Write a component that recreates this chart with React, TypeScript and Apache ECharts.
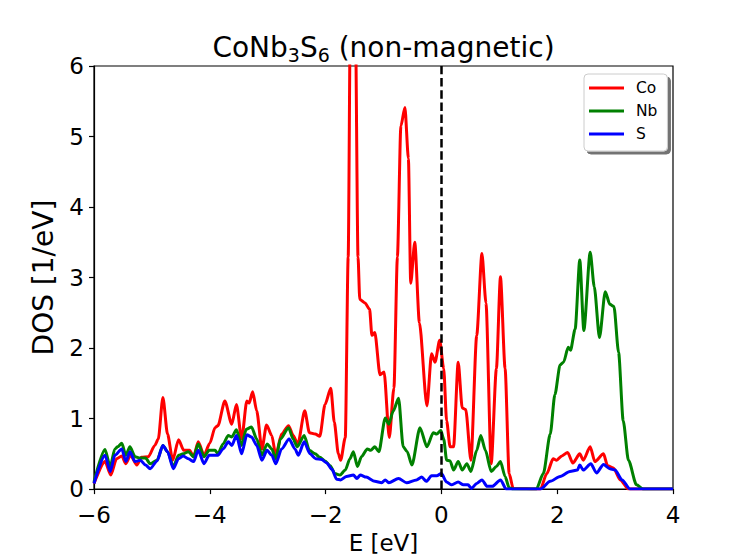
import React, { useEffect, useRef } from "react";
import * as echarts from "echarts";

// Energy (eV) vs. projected DOS (1/eV)
const coDOS: [number, number][] = [
  [-6.0, 0.08], [-5.81, 0.39], [-5.71, 0.2], [-5.61, 0.43], [-5.52, 0.47], [-5.45, 0.36],
  [-5.37, 0.48], [-5.26, 0.34], [-5.18, 0.45], [-5.06, 0.46], [-4.95, 0.62], [-4.89, 0.71],
  [-4.81, 1.3], [-4.73, 0.78], [-4.64, 0.41], [-4.54, 0.7], [-4.45, 0.55], [-4.35, 0.55],
  [-4.28, 0.46], [-4.2, 0.67], [-4.1, 0.48], [-4.0, 0.65], [-3.91, 0.87], [-3.86, 0.9],
  [-3.74, 1.25], [-3.62, 0.92], [-3.54, 1.2], [-3.45, 0.71], [-3.36, 1.25], [-3.32, 1.22],
  [-3.26, 1.38], [-3.19, 1.11], [-3.1, 0.57], [-3.02, 0.91], [-2.93, 0.76], [-2.86, 0.48],
  [-2.76, 0.78], [-2.64, 0.9], [-2.56, 0.76], [-2.48, 0.64], [-2.36, 1.11], [-2.28, 0.8],
  [-2.18, 0.78], [-2.1, 0.75], [-2.01, 1.2], [-1.91, 1.43], [-1.85, 0.95], [-1.78, 0.5],
  [-1.74, 0.41], [-1.66, 0.73], [-1.61, 3.29], [-1.57, 7.0], [-1.53, 8.0], [-1.49, 7.0],
  [-1.44, 3.29], [-1.41, 2.69], [-1.32, 2.64], [-1.24, 2.55], [-1.2, 2.18], [-1.15, 2.22],
  [-1.06, 1.62], [-0.99, 1.66], [-0.9, 0.73], [-0.82, 1.43], [-0.76, 3.29], [-0.7, 5.15],
  [-0.63, 5.41], [-0.57, 4.69], [-0.53, 2.92], [-0.46, 3.5], [-0.38, 2.36], [-0.25, 1.18],
  [-0.17, 1.92], [-0.11, 1.8], [-0.03, 2.11], [0.04, 1.71], [0.09, 0.97], [0.15, 0.6],
  [0.21, 0.6], [0.29, 1.8], [0.36, 1.15], [0.42, 1.13], [0.51, 0.41], [0.61, 2.18],
  [0.7, 3.34], [0.77, 2.64], [0.86, 0.36], [0.95, 1.71], [1.02, 3.01], [1.1, 1.71],
  [1.17, 0.22], [1.24, 0.01], [1.71, 0.0], [1.82, 0.22], [1.93, 0.43], [1.99, 0.41],
  [2.08, 0.47], [2.18, 0.52], [2.27, 0.37], [2.39, 0.5], [2.45, 0.41], [2.57, 0.6],
  [2.65, 0.39], [2.8, 0.5], [2.87, 0.33], [2.97, 0.3], [3.09, 0.13], [3.23, 0.0], [4.0, 0.0],
];

const nbDOS: [number, number][] = [
  [-6.0, 0.1], [-5.81, 0.56], [-5.72, 0.32], [-5.64, 0.57], [-5.59, 0.6], [-5.52, 0.65],
  [-5.45, 0.48], [-5.38, 0.6], [-5.29, 0.46], [-5.21, 0.44], [-5.11, 0.44], [-5.03, 0.36],
  [-4.91, 0.41], [-4.81, 0.62], [-4.73, 0.53], [-4.63, 0.32], [-4.54, 0.48], [-4.46, 0.5],
  [-4.37, 0.53], [-4.28, 0.46], [-4.2, 0.64], [-4.1, 0.46], [-4.01, 0.55], [-3.91, 0.55],
  [-3.86, 0.5], [-3.77, 0.64], [-3.68, 0.76], [-3.62, 0.74], [-3.54, 0.84], [-3.45, 0.62],
  [-3.37, 0.85], [-3.28, 0.88], [-3.19, 0.71], [-3.1, 0.48], [-3.01, 0.64], [-2.93, 0.57],
  [-2.86, 0.43], [-2.78, 0.71], [-2.64, 0.87], [-2.56, 0.71], [-2.49, 0.6], [-2.37, 0.76],
  [-2.28, 0.55], [-2.18, 0.5], [-2.1, 0.45], [-2.01, 0.4], [-1.92, 0.33], [-1.84, 0.22],
  [-1.75, 0.2], [-1.66, 0.27], [-1.58, 0.43], [-1.52, 0.53], [-1.45, 0.32], [-1.38, 0.46],
  [-1.28, 0.57], [-1.22, 0.55], [-1.15, 0.6], [-1.08, 0.53], [-0.97, 1.01], [-0.91, 0.92],
  [-0.83, 1.11], [-0.74, 1.29], [-0.66, 0.6], [-0.59, 0.53], [-0.51, 0.34], [-0.37, 0.87],
  [-0.25, 0.6], [-0.14, 0.8], [-0.08, 0.78], [-0.01, 0.83], [0.04, 0.71], [0.09, 0.41],
  [0.15, 0.4], [0.21, 0.27], [0.29, 0.39], [0.36, 0.27], [0.44, 0.36], [0.51, 0.25],
  [0.61, 0.55], [0.68, 0.76], [0.76, 0.55], [0.86, 0.25], [0.95, 0.32], [1.02, 0.39],
  [1.1, 0.18], [1.17, 0.02], [1.24, 0.0], [1.64, 0.0], [1.76, 0.22], [1.88, 0.78],
  [1.96, 1.34], [2.05, 1.76], [2.11, 1.8], [2.19, 2.01], [2.23, 1.97], [2.31, 2.27],
  [2.39, 3.25], [2.46, 2.25], [2.57, 3.36], [2.64, 2.87], [2.73, 2.15], [2.83, 2.8],
  [2.91, 2.62], [2.98, 2.59], [3.06, 1.94], [3.14, 0.97], [3.23, 0.41], [3.37, 0.06],
  [3.48, 0.0], [4.0, 0.0],
];

const sDOS: [number, number][] = [
  [-6.0, 0.08], [-5.81, 0.48], [-5.72, 0.25], [-5.64, 0.48], [-5.52, 0.57], [-5.45, 0.39],
  [-5.38, 0.53], [-5.29, 0.39], [-5.2, 0.41], [-5.11, 0.34], [-5.03, 0.29], [-4.91, 0.4],
  [-4.81, 0.62], [-4.73, 0.53], [-4.63, 0.29], [-4.54, 0.43], [-4.46, 0.47], [-4.37, 0.43],
  [-4.28, 0.39], [-4.2, 0.55], [-4.1, 0.36], [-4.01, 0.48], [-3.91, 0.48], [-3.86, 0.48],
  [-3.77, 0.57], [-3.68, 0.67], [-3.62, 0.62], [-3.54, 0.76], [-3.45, 0.5], [-3.36, 0.77],
  [-3.28, 0.74], [-3.19, 0.62], [-3.1, 0.41], [-3.01, 0.55], [-2.93, 0.48], [-2.86, 0.36],
  [-2.76, 0.57], [-2.63, 0.71], [-2.53, 0.57], [-2.47, 0.48], [-2.37, 0.67], [-2.27, 0.5],
  [-2.17, 0.43], [-2.07, 0.42], [-1.98, 0.37], [-1.89, 0.28], [-1.81, 0.14], [-1.74, 0.13],
  [-1.64, 0.18], [-1.52, 0.2], [-1.46, 0.15], [-1.4, 0.2], [-1.3, 0.17], [-1.15, 0.11],
  [-1.03, 0.09], [-0.97, 0.13], [-0.91, 0.09], [-0.74, 0.15], [-0.6, 0.09], [-0.43, 0.13],
  [-0.34, 0.17], [-0.26, 0.11], [-0.17, 0.19], [-0.08, 0.19], [0.0, 0.22], [0.09, 0.1],
  [0.17, 0.06], [0.29, 0.1], [0.38, 0.06], [0.46, 0.06], [0.52, 0.01], [0.61, 0.08],
  [0.7, 0.13], [0.79, 0.04], [0.88, 0.04], [1.02, 0.13], [1.12, 0.0], [1.71, 0.0],
  [1.88, 0.11], [2.05, 0.18], [2.22, 0.25], [2.35, 0.27], [2.39, 0.34], [2.45, 0.27],
  [2.58, 0.36], [2.68, 0.23], [2.8, 0.35], [2.91, 0.29], [3.0, 0.27], [3.12, 0.13],
  [3.26, 0.0], [4.0, 0.0],
];

const seriesNames = ["Co", "Nb", "S"];
const seriesColors = ["#ff0000", "#008000", "#0000ff"];
const xRange = { min: -6, max: 4, step: 2 };
const yRange = { min: 0, max: 6, step: 1 };
const fermiLevel = 0;
const titleText = "{a|CoNb}{s|3}{a|S}{s|6}{a| (non-magnetic)}";
const xLabel = "E [eV]";
const yLabel = "DOS [1/eV]";

const FONT = "DejaVu Sans";

export default function App() {
  const ref = useRef<HTMLDivElement>(null);

  useEffect(() => {
    if (!ref.current) return;
    const chart = echarts.init(ref.current, null, { renderer: "svg" });
    const allData = [coDOS, nbDOS, sDOS];
    const fmt = (v: number) => String(v).replace("-", "\u2212");

    const series: any[] = allData.map((d, i) => ({
      name: seriesNames[i],
      type: "line",
      data: d,
      showSymbol: false,
      smooth: 0.25,
      smoothMonotone: "x",
      clip: true,
      lineStyle: { color: seriesColors[i], width: 3 },
      itemStyle: { color: seriesColors[i] },
      z: 2 + i,
    }));
    series[2].markLine = {
      silent: true,
      symbol: "none",
      label: { show: false },
      lineStyle: { color: "#000", width: 2.5, type: [8.5, 3.7] },
      data: [{ xAxis: fermiLevel }],
    };

    chart.setOption({
      animation: false,
      backgroundColor: "#fff",
      textStyle: { fontFamily: FONT },
      grid: {
        left: 94,
        right: 74,
        top: 66,
        bottom: 63,
        show: true,
        borderColor: "#000",
        borderWidth: 1.2,
        backgroundColor: "transparent",
      },
      graphic: [
        {
          type: "text",
          x: 383.5,
          y: 47,
          z: 10,
          style: {
            text: titleText,
            align: "center",
            verticalAlign: "middle",
            fill: "#000",
            rich: {
              a: { fontSize: 28, fontFamily: FONT, fill: "#000", lineHeight: 34 },
              s: {
                fontSize: 19,
                fontFamily: FONT,
                fill: "#000",
                lineHeight: 20,
                verticalAlign: "bottom",
              },
            },
          },
        },
      ],
      legend: {
        data: seriesNames,
        orient: "vertical",
        left: 584,
        top: 74,
        icon: "rect",
        itemWidth: 35,
        itemHeight: 3,
        itemGap: 5,
        padding: [5, 10, 8, 5],
        backgroundColor: "#fff",
        borderColor: "#cccccc",
        borderWidth: 1,
        borderRadius: 4,
        shadowColor: "rgba(0,0,0,0.55)",
        shadowBlur: 0,
        shadowOffsetX: 3,
        shadowOffsetY: 3,
        textStyle: {
          fontFamily: FONT,
          fontSize: 15.5,
          color: "#000",
          lineHeight: 18,
          padding: [0, 0, 0, 7],
        },
      },
      xAxis: {
        type: "value",
        min: xRange.min,
        max: xRange.max,
        interval: xRange.step,
        name: xLabel,
        nameLocation: "middle",
        nameGap: 31,
        nameTextStyle: { fontFamily: FONT, fontSize: 23, color: "#000" },
        axisLine: { show: true, onZero: false, lineStyle: { color: "#000", width: 1.2 } },
        axisTick: { show: true, inside: false, length: 5, lineStyle: { color: "#000", width: 1.2 } },
        axisLabel: {
          fontFamily: FONT,
          fontSize: 23,
          color: "#000",
          margin: 14,
          formatter: (v: number) => fmt(v),
        },
        splitLine: { show: false },
      },
      yAxis: {
        type: "value",
        min: yRange.min,
        max: yRange.max,
        interval: yRange.step,
        name: yLabel,
        nameLocation: "middle",
        nameRotate: 90,
        nameGap: 37,
        nameTextStyle: { fontFamily: FONT, fontSize: 28, color: "#000" },
        axisLine: { show: true, onZero: false, lineStyle: { color: "#000", width: 1.2 } },
        axisTick: { show: true, inside: false, length: 5, lineStyle: { color: "#000", width: 1.2 } },
        axisLabel: {
          fontFamily: FONT,
          fontSize: 23,
          color: "#000",
          margin: 10,
          formatter: (v: number) => fmt(v),
        },
        splitLine: { show: false },
      },
      series,
    });

    return () => chart.dispose();
  }, []);

  return (
    <div
      ref={ref}
      style={{ position: "fixed", left: 0, top: 0, width: 747, height: 559, background: "#fff" }}
    />
  );
}
